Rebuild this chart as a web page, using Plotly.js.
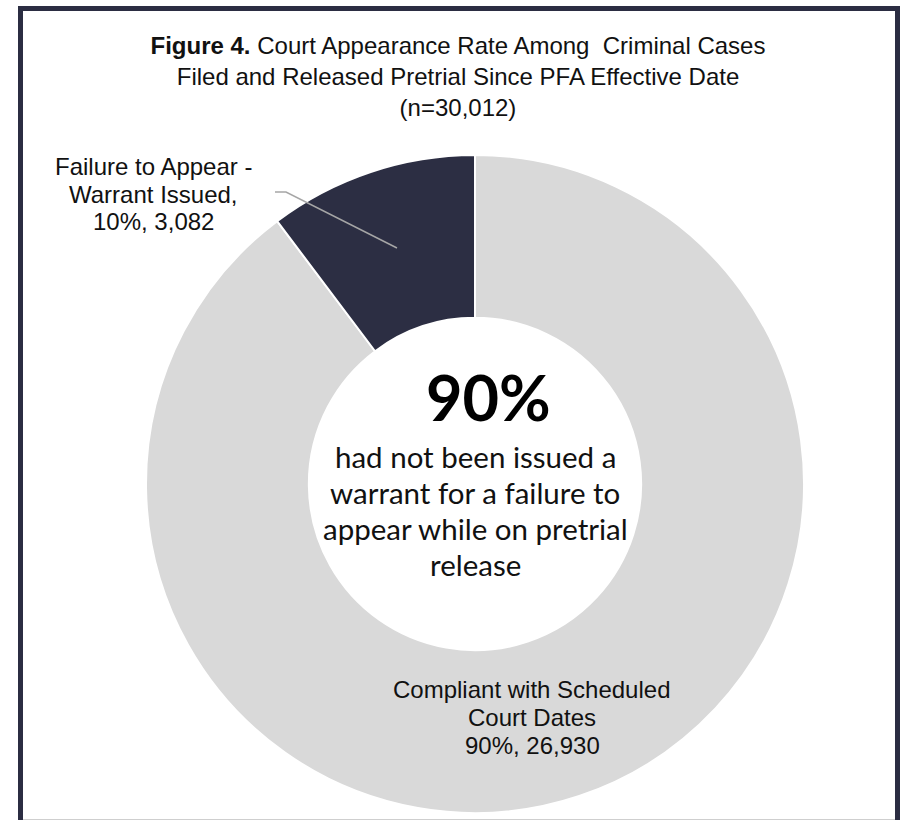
<!DOCTYPE html>
<html>
<head>
<meta charset="utf-8">
<script src="https://cdn.plot.ly/plotly-3.0.1.min.js"></script>
<style>
  html, body { margin: 0; padding: 0; background: #ffffff; }
  #chart { width: 902px; height: 820px; }
</style>
</head>
<body>
<div id="chart"></div>
<script>
// ---- data ----
const categories = ["Compliant with Scheduled Court Dates", "Failure to Appear - Warrant Issued"];
const labelLines = [["Compliant with Scheduled", "Court Dates"], ["Failure to Appear -", "Warrant Issued,"]];
const caseCounts = [26930, 3082];
const sliceColors = ["#d9d9d9", "#2c2e43"];
const titleLines = ["<b>Figure 4.</b> Court Appearance Rate Among  Criminal Cases",
                    "Filed and Released Pretrial Since PFA Effective Date",
                    "(n=30,012)"];
const centerLines = ["had not been issued a", "warrant for a failure to", "appear while on pretrial", "release"];

// ---- helpers ----
const W = 902, H = 820;
const px = x => x / W;
const py = y => 1 - y / H;
const total = caseCounts.reduce((a, b) => a + b, 0);
const pct = caseCounts.map(v => Math.round(v / total * 100));
const fmt = v => v.toLocaleString('en-US');

const labelFont = { family: "Liberation Sans, Arial, sans-serif", size: 24, color: "#111111" };
const centerFont = "Lato, Carlito, Calibri, sans-serif";

const annotations = [];
function addLines(lines, cx, firstBaseline, spacing, font) {
  lines.forEach((t, i) => {
    const base = firstBaseline + i * spacing;
    annotations.push({
      xref: 'paper', yref: 'paper', x: px(cx), y: py(base - 0.35 * font.size),
      xanchor: 'center', yanchor: 'middle', showarrow: false, text: t, font: font
    });
  });
}

// slice labels
const bigLabel = labelLines[0].concat([pct[0] + "%, " + fmt(caseCounts[0])]);
const smallLabel = labelLines[1].concat([pct[1] + "%, " + fmt(caseCounts[1])]);
addLines(bigLabel, 532, 698, 28, labelFont);
addLines(smallLabel, 153, 175, 27.5, labelFont);

// center text
addLines([pct[0] + "%"], 488, 419, 0, { family: centerFont, size: 63, color: "#000000", weight: 700 });
addLines(centerLines, 475, 467, 36.0, { family: centerFont, size: 29.5, color: "#111111" });

const trace = {
  type: 'pie',
  labels: categories,
  values: caseCounts,
  sort: false,
  direction: 'clockwise',
  rotation: 0,
  hole: 0.505,
  textinfo: 'none',
  hoverinfo: 'label+value+percent',
  marker: { colors: sliceColors, line: { color: '#ffffff', width: 2 } },
  domain: { x: [px(146), px(804)], y: [py(813), py(155)] },
  showlegend: false
};

const layout = {
  width: W, height: H,
  margin: { l: 0, r: 0, t: 0, b: 0 },
  paper_bgcolor: '#ffffff',
  plot_bgcolor: '#ffffff',
  showlegend: false,
  title: {
    text: titleLines.join("<br>"),
    font: { family: "Liberation Sans, Arial, sans-serif", size: 24, color: "#111111" },
    x: px(458), xanchor: 'center', xref: 'container',
    y: 1 - 54 / H, yanchor: 'top', yref: 'container',
    pad: { t: 0, b: 0, l: 0, r: 0 }
  },
  annotations: annotations,
  shapes: [
    { type: 'rect', xref: 'paper', yref: 'paper',
      x0: px(20.5), x1: px(897.5), y0: py(8.5), y1: py(835),
      line: { color: '#2b2d42', width: 5 }, fillcolor: 'rgba(0,0,0,0)', layer: 'above' },
    { type: 'line', xref: 'paper', yref: 'paper',
      x0: px(23), x1: px(895), y0: py(819.5), y1: py(819.5),
      line: { color: '#cfcfcf', width: 1 } },
    { type: 'path', xref: 'paper', yref: 'paper',
      path: 'M ' + px(275) + ' ' + py(192) + ' L ' + px(286) + ' ' + py(192) + ' L ' + px(397) + ' ' + py(248),
      line: { color: '#a6a6a6', width: 1.5 }, layer: 'above' }
  ]
};

Plotly.newPlot('chart', [trace], layout, { displayModeBar: false, staticPlot: true });
</script>
</body>
</html>
